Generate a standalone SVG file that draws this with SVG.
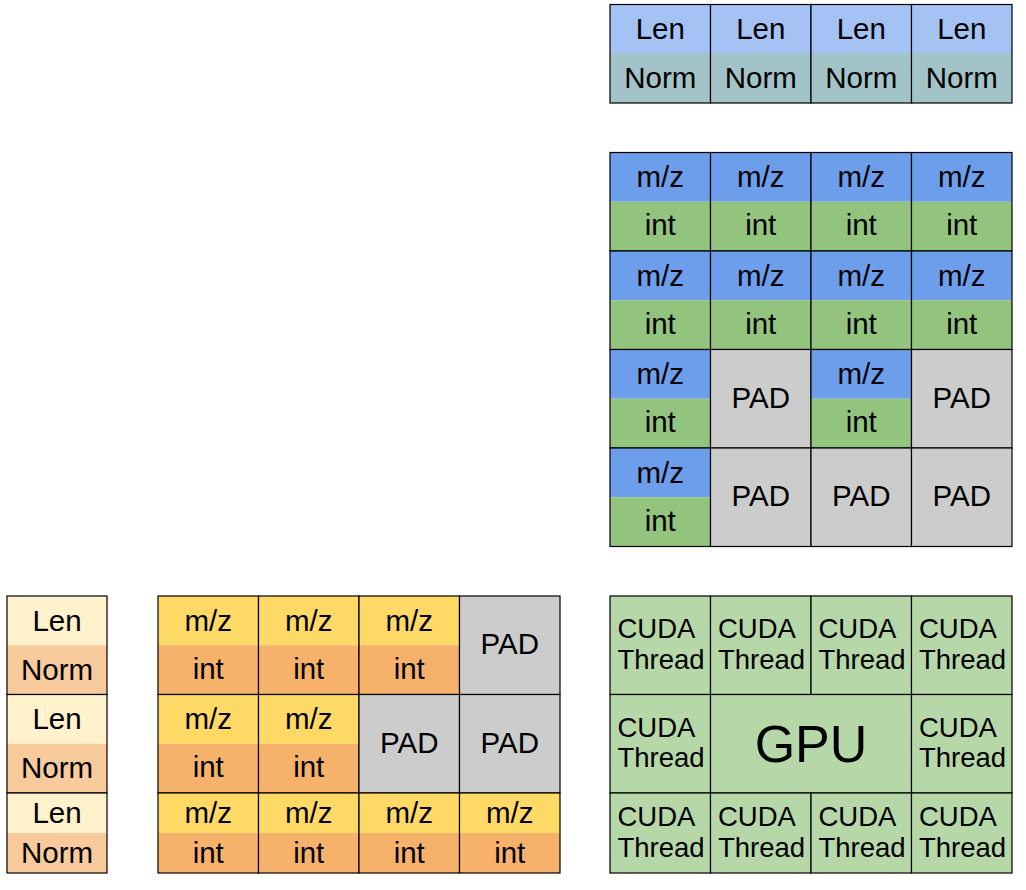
<svg xmlns="http://www.w3.org/2000/svg" width="1026" height="890" viewBox="0 0 1026 890">
  <style>
    text { font-family: "Liberation Sans", Arial, sans-serif; font-size: 29.5px; fill: #000; }
    .c { text-anchor: middle; }
    .l { text-anchor: start; font-size: 27.5px; }
    .big { font-size: 52px; text-anchor: middle; }
    .box { fill: none; stroke: #000; stroke-width: 1.2; }
    .len-b { fill: #a4c2f4; }
    .norm-b { fill: #a2c4c9; }
    .mz-b { fill: #6d9eeb; }
    .int-g { fill: #93c47d; }
    .pad { fill: #cccccc; }
    .len-y { fill: #fff2cc; }
    .norm-o { fill: #f9cb9c; }
    .mz-y { fill: #ffd966; }
    .int-o { fill: #f6b26b; }
    .gpu { fill: #b6d7a8; }
  </style>

  <!-- Per-spectrum Len / Norm header row (top right) -->
  <g id="header-0">
    <rect class="len-b" x="610" y="4.5" width="100.5" height="48.5"/>
    <rect class="norm-b" x="610" y="53" width="100.5" height="50"/>
    <rect class="box" x="610" y="4.5" width="100.5" height="98.5"/>
    <text class="c" x="660.25" y="39">Len</text>
    <text class="c" x="660.25" y="88">Norm</text>
  </g>
  <g id="header-1">
    <rect class="len-b" x="710.5" y="4.5" width="100.5" height="48.5"/>
    <rect class="norm-b" x="710.5" y="53" width="100.5" height="50"/>
    <rect class="box" x="710.5" y="4.5" width="100.5" height="98.5"/>
    <text class="c" x="760.75" y="39">Len</text>
    <text class="c" x="760.75" y="88">Norm</text>
  </g>
  <g id="header-2">
    <rect class="len-b" x="811" y="4.5" width="100.5" height="48.5"/>
    <rect class="norm-b" x="811" y="53" width="100.5" height="50"/>
    <rect class="box" x="811" y="4.5" width="100.5" height="98.5"/>
    <text class="c" x="861.25" y="39">Len</text>
    <text class="c" x="861.25" y="88">Norm</text>
  </g>
  <g id="header-3">
    <rect class="len-b" x="911.5" y="4.5" width="100.5" height="48.5"/>
    <rect class="norm-b" x="911.5" y="53" width="100.5" height="50"/>
    <rect class="box" x="911.5" y="4.5" width="100.5" height="98.5"/>
    <text class="c" x="961.75" y="39">Len</text>
    <text class="c" x="961.75" y="88">Norm</text>
  </g>

  <!-- Column-major peak grid (top right) -->
  <g id="grid-r0c0"><rect class="mz-b" x="610" y="152.5" width="100.5" height="49.25"/><rect class="int-g" x="610" y="201.75" width="100.5" height="49.25"/><rect class="box" x="610" y="152.5" width="100.5" height="98.5"/><text class="c" x="660.25" y="187.3">m/z</text><text class="c" x="660.25" y="235.3">int</text></g>
  <g id="grid-r0c1"><rect class="mz-b" x="710.5" y="152.5" width="100.5" height="49.25"/><rect class="int-g" x="710.5" y="201.75" width="100.5" height="49.25"/><rect class="box" x="710.5" y="152.5" width="100.5" height="98.5"/><text class="c" x="760.75" y="187.3">m/z</text><text class="c" x="760.75" y="235.3">int</text></g>
  <g id="grid-r0c2"><rect class="mz-b" x="811" y="152.5" width="100.5" height="49.25"/><rect class="int-g" x="811" y="201.75" width="100.5" height="49.25"/><rect class="box" x="811" y="152.5" width="100.5" height="98.5"/><text class="c" x="861.25" y="187.3">m/z</text><text class="c" x="861.25" y="235.3">int</text></g>
  <g id="grid-r0c3"><rect class="mz-b" x="911.5" y="152.5" width="100.5" height="49.25"/><rect class="int-g" x="911.5" y="201.75" width="100.5" height="49.25"/><rect class="box" x="911.5" y="152.5" width="100.5" height="98.5"/><text class="c" x="961.75" y="187.3">m/z</text><text class="c" x="961.75" y="235.3">int</text></g>

  <g id="grid-r1c0"><rect class="mz-b" x="610" y="251" width="100.5" height="49.25"/><rect class="int-g" x="610" y="300.25" width="100.5" height="49.25"/><rect class="box" x="610" y="251" width="100.5" height="98.5"/><text class="c" x="660.25" y="285.8">m/z</text><text class="c" x="660.25" y="333.8">int</text></g>
  <g id="grid-r1c1"><rect class="mz-b" x="710.5" y="251" width="100.5" height="49.25"/><rect class="int-g" x="710.5" y="300.25" width="100.5" height="49.25"/><rect class="box" x="710.5" y="251" width="100.5" height="98.5"/><text class="c" x="760.75" y="285.8">m/z</text><text class="c" x="760.75" y="333.8">int</text></g>
  <g id="grid-r1c2"><rect class="mz-b" x="811" y="251" width="100.5" height="49.25"/><rect class="int-g" x="811" y="300.25" width="100.5" height="49.25"/><rect class="box" x="811" y="251" width="100.5" height="98.5"/><text class="c" x="861.25" y="285.8">m/z</text><text class="c" x="861.25" y="333.8">int</text></g>
  <g id="grid-r1c3"><rect class="mz-b" x="911.5" y="251" width="100.5" height="49.25"/><rect class="int-g" x="911.5" y="300.25" width="100.5" height="49.25"/><rect class="box" x="911.5" y="251" width="100.5" height="98.5"/><text class="c" x="961.75" y="285.8">m/z</text><text class="c" x="961.75" y="333.8">int</text></g>

  <g id="grid-r2c0"><rect class="mz-b" x="610" y="349.5" width="100.5" height="49.25"/><rect class="int-g" x="610" y="398.75" width="100.5" height="49.25"/><rect class="box" x="610" y="349.5" width="100.5" height="98.5"/><text class="c" x="660.25" y="384.3">m/z</text><text class="c" x="660.25" y="432.3">int</text></g>
  <g id="grid-r2c1"><rect class="pad" x="710.5" y="349.5" width="100.5" height="98.5"/><rect class="box" x="710.5" y="349.5" width="100.5" height="98.5"/><text class="c" x="760.75" y="407.7">PAD</text></g>
  <g id="grid-r2c2"><rect class="mz-b" x="811" y="349.5" width="100.5" height="49.25"/><rect class="int-g" x="811" y="398.75" width="100.5" height="49.25"/><rect class="box" x="811" y="349.5" width="100.5" height="98.5"/><text class="c" x="861.25" y="384.3">m/z</text><text class="c" x="861.25" y="432.3">int</text></g>
  <g id="grid-r2c3"><rect class="pad" x="911.5" y="349.5" width="100.5" height="98.5"/><rect class="box" x="911.5" y="349.5" width="100.5" height="98.5"/><text class="c" x="961.75" y="407.7">PAD</text></g>

  <g id="grid-r3c0"><rect class="mz-b" x="610" y="448" width="100.5" height="49.25"/><rect class="int-g" x="610" y="497.25" width="100.5" height="49.25"/><rect class="box" x="610" y="448" width="100.5" height="98.5"/><text class="c" x="660.25" y="482.8">m/z</text><text class="c" x="660.25" y="530.8">int</text></g>
  <g id="grid-r3c1"><rect class="pad" x="710.5" y="448" width="100.5" height="98.5"/><rect class="box" x="710.5" y="448" width="100.5" height="98.5"/><text class="c" x="760.75" y="506.2">PAD</text></g>
  <g id="grid-r3c2"><rect class="pad" x="811" y="448" width="100.5" height="98.5"/><rect class="box" x="811" y="448" width="100.5" height="98.5"/><text class="c" x="861.25" y="506.2">PAD</text></g>
  <g id="grid-r3c3"><rect class="pad" x="911.5" y="448" width="100.5" height="98.5"/><rect class="box" x="911.5" y="448" width="100.5" height="98.5"/><text class="c" x="961.75" y="506.2">PAD</text></g>

  <!-- Row-major Len / Norm column (bottom left) -->
  <g id="meta-0"><rect class="len-y" x="7" y="596" width="100" height="49.25"/><rect class="norm-o" x="7" y="645.25" width="100" height="49.25"/><rect class="box" x="7" y="596" width="100" height="98.5"/><text class="c" x="57" y="630.8">Len</text><text class="c" x="57" y="679.6">Norm</text></g>
  <g id="meta-1"><rect class="len-y" x="7" y="694.5" width="100" height="49.25"/><rect class="norm-o" x="7" y="743.75" width="100" height="49.25"/><rect class="box" x="7" y="694.5" width="100" height="98.5"/><text class="c" x="57" y="729.3">Len</text><text class="c" x="57" y="778.1">Norm</text></g>
  <g id="meta-2"><rect class="len-y" x="7" y="793" width="100" height="40"/><rect class="norm-o" x="7" y="833" width="100" height="40"/><rect class="box" x="7" y="793" width="100" height="80"/><text class="c" x="57" y="823">Len</text><text class="c" x="57" y="863">Norm</text></g>

  <!-- Row-major peak grid (bottom middle) -->
  <g id="rows-r0c0"><rect class="mz-y" x="158" y="596" width="100.5" height="49.25"/><rect class="int-o" x="158" y="645.25" width="100.5" height="49.25"/><rect class="box" x="158" y="596" width="100.5" height="98.5"/><text class="c" x="208.25" y="630.8">m/z</text><text class="c" x="208.25" y="678.8">int</text></g>
  <g id="rows-r0c1"><rect class="mz-y" x="258.5" y="596" width="100.5" height="49.25"/><rect class="int-o" x="258.5" y="645.25" width="100.5" height="49.25"/><rect class="box" x="258.5" y="596" width="100.5" height="98.5"/><text class="c" x="308.75" y="630.8">m/z</text><text class="c" x="308.75" y="678.8">int</text></g>
  <g id="rows-r0c2"><rect class="mz-y" x="359" y="596" width="100.5" height="49.25"/><rect class="int-o" x="359" y="645.25" width="100.5" height="49.25"/><rect class="box" x="359" y="596" width="100.5" height="98.5"/><text class="c" x="409.25" y="630.8">m/z</text><text class="c" x="409.25" y="678.8">int</text></g>
  <g id="rows-r0c3"><rect class="pad" x="459.5" y="596" width="100.5" height="98.5"/><rect class="box" x="459.5" y="596" width="100.5" height="98.5"/><text class="c" x="509.75" y="654.2">PAD</text></g>

  <g id="rows-r1c0"><rect class="mz-y" x="158" y="694.5" width="100.5" height="49.25"/><rect class="int-o" x="158" y="743.75" width="100.5" height="49.25"/><rect class="box" x="158" y="694.5" width="100.5" height="98.5"/><text class="c" x="208.25" y="729.3">m/z</text><text class="c" x="208.25" y="777.3">int</text></g>
  <g id="rows-r1c1"><rect class="mz-y" x="258.5" y="694.5" width="100.5" height="49.25"/><rect class="int-o" x="258.5" y="743.75" width="100.5" height="49.25"/><rect class="box" x="258.5" y="694.5" width="100.5" height="98.5"/><text class="c" x="308.75" y="729.3">m/z</text><text class="c" x="308.75" y="777.3">int</text></g>
  <g id="rows-r1c2"><rect class="pad" x="359" y="694.5" width="100.5" height="98.5"/><rect class="box" x="359" y="694.5" width="100.5" height="98.5"/><text class="c" x="409.25" y="752.7">PAD</text></g>
  <g id="rows-r1c3"><rect class="pad" x="459.5" y="694.5" width="100.5" height="98.5"/><rect class="box" x="459.5" y="694.5" width="100.5" height="98.5"/><text class="c" x="509.75" y="752.7">PAD</text></g>

  <g id="rows-r2c0"><rect class="mz-y" x="158" y="793" width="100.5" height="40"/><rect class="int-o" x="158" y="833" width="100.5" height="40"/><rect class="box" x="158" y="793" width="100.5" height="80"/><text class="c" x="208.25" y="823">m/z</text><text class="c" x="208.25" y="862.5">int</text></g>
  <g id="rows-r2c1"><rect class="mz-y" x="258.5" y="793" width="100.5" height="40"/><rect class="int-o" x="258.5" y="833" width="100.5" height="40"/><rect class="box" x="258.5" y="793" width="100.5" height="80"/><text class="c" x="308.75" y="823">m/z</text><text class="c" x="308.75" y="862.5">int</text></g>
  <g id="rows-r2c2"><rect class="mz-y" x="359" y="793" width="100.5" height="40"/><rect class="int-o" x="359" y="833" width="100.5" height="40"/><rect class="box" x="359" y="793" width="100.5" height="80"/><text class="c" x="409.25" y="823">m/z</text><text class="c" x="409.25" y="862.5">int</text></g>
  <g id="rows-r2c3"><rect class="mz-y" x="459.5" y="793" width="100.5" height="40"/><rect class="int-o" x="459.5" y="833" width="100.5" height="40"/><rect class="box" x="459.5" y="793" width="100.5" height="80"/><text class="c" x="509.75" y="823">m/z</text><text class="c" x="509.75" y="862.5">int</text></g>

  <!-- GPU with surrounding CUDA threads (bottom right) -->
  <g id="thread-0"><rect class="gpu" x="610" y="596" width="100.5" height="98.5"/><rect class="box" x="610" y="596" width="100.5" height="98.5"/><text class="l" x="617.5" y="638.3">CUDA</text><text class="l" x="617.5" y="668.7">Thread</text></g>
  <g id="thread-1"><rect class="gpu" x="710.5" y="596" width="100.5" height="98.5"/><rect class="box" x="710.5" y="596" width="100.5" height="98.5"/><text class="l" x="718" y="638.3">CUDA</text><text class="l" x="718" y="668.7">Thread</text></g>
  <g id="thread-2"><rect class="gpu" x="811" y="596" width="100.5" height="98.5"/><rect class="box" x="811" y="596" width="100.5" height="98.5"/><text class="l" x="818.5" y="638.3">CUDA</text><text class="l" x="818.5" y="668.7">Thread</text></g>
  <g id="thread-3"><rect class="gpu" x="911.5" y="596" width="100.5" height="98.5"/><rect class="box" x="911.5" y="596" width="100.5" height="98.5"/><text class="l" x="919" y="638.3">CUDA</text><text class="l" x="919" y="668.7">Thread</text></g>

  <g id="thread-4"><rect class="gpu" x="610" y="694.5" width="100.5" height="98.5"/><rect class="box" x="610" y="694.5" width="100.5" height="98.5"/><text class="l" x="617.5" y="736.8">CUDA</text><text class="l" x="617.5" y="767.2">Thread</text></g>
  <g id="gpu"><rect class="gpu" x="710.5" y="694.5" width="201" height="98.5"/><rect class="box" x="710.5" y="694.5" width="201" height="98.5"/><text class="big" x="811" y="761.5">GPU</text></g>
  <g id="thread-5"><rect class="gpu" x="911.5" y="694.5" width="100.5" height="98.5"/><rect class="box" x="911.5" y="694.5" width="100.5" height="98.5"/><text class="l" x="919" y="736.8">CUDA</text><text class="l" x="919" y="767.2">Thread</text></g>

  <g id="thread-6"><rect class="gpu" x="610" y="793" width="100.5" height="80"/><rect class="box" x="610" y="793" width="100.5" height="80"/><text class="l" x="617.5" y="826">CUDA</text><text class="l" x="617.5" y="856.5">Thread</text></g>
  <g id="thread-7"><rect class="gpu" x="710.5" y="793" width="100.5" height="80"/><rect class="box" x="710.5" y="793" width="100.5" height="80"/><text class="l" x="718" y="826">CUDA</text><text class="l" x="718" y="856.5">Thread</text></g>
  <g id="thread-8"><rect class="gpu" x="811" y="793" width="100.5" height="80"/><rect class="box" x="811" y="793" width="100.5" height="80"/><text class="l" x="818.5" y="826">CUDA</text><text class="l" x="818.5" y="856.5">Thread</text></g>
  <g id="thread-9"><rect class="gpu" x="911.5" y="793" width="100.5" height="80"/><rect class="box" x="911.5" y="793" width="100.5" height="80"/><text class="l" x="919" y="826">CUDA</text><text class="l" x="919" y="856.5">Thread</text></g>
</svg>
